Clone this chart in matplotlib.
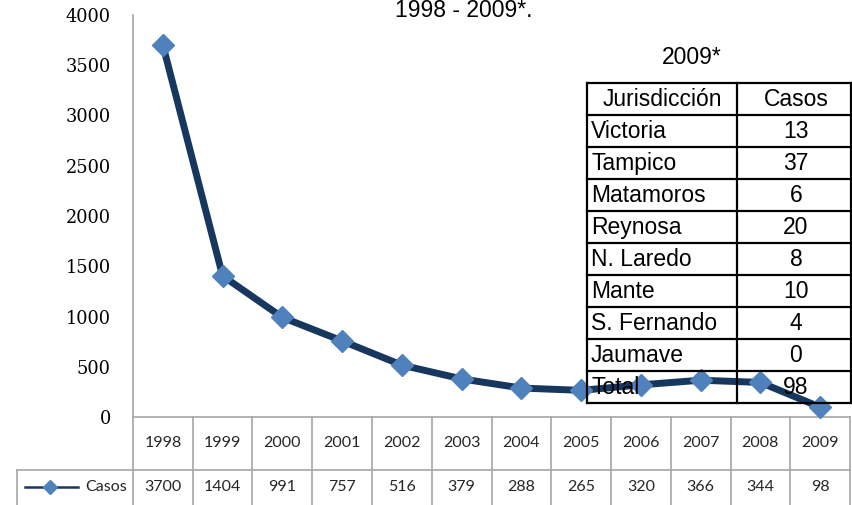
import matplotlib
matplotlib.use("Agg")
import matplotlib.pyplot as plt

years = ["1998", "1999", "2000", "2001", "2002", "2003", "2004", "2005",
         "2006", "2007", "2008", "2009"]
casos = [3700, 1404, 991, 757, 516, 379, 288, 265, 320, 366, 344, 98]

jurisdicciones = ["Victoria", "Tampico", "Matamoros", "Reynosa", "N. Laredo",
                  "Mante", "S. Fernando", "Jaumave", "Total"]
casos_2009 = [13, 37, 6, 20, 8, 10, 4, 0, 98]

W, H = 852, 505
fig = plt.figure(figsize=(W / 100, H / 100), dpi=100)

LINE_C = "#17375E"
MARK_C = "#4F81BD"
GRID_C = "#A6A6A6"

# ---- main chart ----
x0, x1, y0, y1 = 133, 850, 417, 15
ax = fig.add_axes([x0 / W, (H - y0) / H, (x1 - x0) / W, (y0 - y1) / H])
xs = list(range(len(years)))
ax.plot(xs, casos, color=LINE_C, lw=5, marker="D", ms=11.5,
        mfc=MARK_C, mec=MARK_C, solid_joinstyle="round", clip_on=False, zorder=3)
ax.set_xlim(-0.5, len(years) - 0.5)
ax.set_ylim(0, 4000)
ax.set_yticks(range(0, 4001, 500))
ax.set_xticks([])
for s in ["top", "right"]:
    ax.spines[s].set_visible(False)
for s in ["left", "bottom"]:
    ax.spines[s].set_color(GRID_C)
    ax.spines[s].set_linewidth(1.2)
ax.tick_params(axis="y", length=0, pad=16, labelsize=12.8, labelcolor="black")
for lab in ax.get_yticklabels():
    lab.set_fontfamily("DejaVu Serif")
ax.patch.set_alpha(0)

# ---- data table under chart ----
colw = (x1 - x0) / len(years)
tl = 17
tax = fig.add_axes([tl / W, 0, (x1 - tl) / W, (H - y0) / H])
xleft = -0.5 - (x0 - tl) / colw
tax.set_xlim(xleft, len(years) - 0.5)
tax.set_ylim(H - y0, 0)
tax.axis("off")
rowsep = 53
for k in range(len(years) + 1):
    tax.plot([-0.5 + k, -0.5 + k], [0, H - y0], color=GRID_C, lw=1.2, clip_on=False)
tax.plot([xleft, len(years) - 0.5], [rowsep, rowsep], color=GRID_C, lw=1.2, clip_on=False)
tax.plot([xleft, xleft], [rowsep, H - y0], color=GRID_C, lw=1.2, clip_on=False)
tfont = dict(family="Lato", size=11.5, color="#262626")
for i, (yr, v) in enumerate(zip(years, casos)):
    tax.text(i, 26, yr, ha="center", va="center", **tfont)
    tax.text(i, 70, str(v), ha="center", va="center", **tfont)
def px2x(px):
    return xleft + (px - tl) / colw
tax.plot([px2x(25), px2x(78)], [70, 70], color=LINE_C, lw=1.8, clip_on=False)
tax.plot([px2x(50)], [70], marker="D", ms=7, mfc=MARK_C, mec=MARK_C, clip_on=False)
tax.text(px2x(127), 70, "Casos", ha="right", va="center", **tfont)

# ---- titles ----
fig.text(464 / W, 1 - 17 / H, "1998 - 2009*.", ha="center", va="baseline",
         family="Liberation Sans", fontsize=16.5)
fig.text(692 / W, 1 - 58 / H, "2009*", ha="center", va="center",
         family="Liberation Sans", fontsize=16.5)

# ---- inset table ----
il, ir, it, ib = 587, 851, 83, 403
iax = fig.add_axes([il / W, (H - ib) / H, (ir - il) / W, (ib - it) / H])
nrows = len(jurisdicciones) + 1
iax.set_xlim(0, ir - il)
iax.set_ylim(nrows, 0)
iax.axis("off")
iax.patch.set_alpha(0)
cdiv = 737 - il
for r in range(nrows + 1):
    iax.plot([0, ir - il], [r, r], color="black", lw=1.6, clip_on=False)
for xv in [0, cdiv, ir - il]:
    iax.plot([xv, xv], [0, nrows], color="black", lw=1.6, clip_on=False)
ifont = dict(family="Liberation Sans", size=16.5, color="black")
iax.text(cdiv / 2, 0.52, "Jurisdicción", ha="center", va="center", **ifont)
iax.text((cdiv + ir - il) / 2 + 2, 0.52, "Casos", ha="center", va="center", **ifont)
for r, (name, v) in enumerate(zip(jurisdicciones, casos_2009), start=1):
    iax.text(4, r + 0.52, name, ha="left", va="center", **ifont)
    iax.text((cdiv + ir - il) / 2 + 2, r + 0.52, str(v), ha="center", va="center", **ifont)

fig.savefig("out.png", dpi=100, facecolor="white")
